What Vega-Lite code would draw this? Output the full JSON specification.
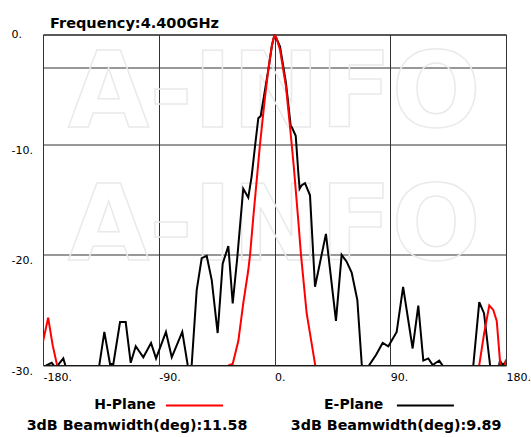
{
  "$schema": "https://vega.github.io/schema/vega-lite/v6.json",
  "autosize": {"type": "none"},
  "width": 463,
  "height": 330.5,
  "padding": {"left": 43, "top": 34.5, "right": 25, "bottom": 72},
  "background": "white",
  "title": {"text": "Frequency:4.400GHz", "anchor": "start", "frame": "group", "font": "DejaVu Sans", "fontSize": 14.5, "fontWeight": "bold", "color": "black", "baseline": "alphabetic", "dx": 7, "offset": -14},
  "config": {"view": {"stroke": "black", "strokeWidth": 1}, "font": "DejaVu Sans"},
  "datasets": {
    "h": [
      {"deg": -180, "db": -27.9}, {"deg": -176, "db": -25.7}, {"deg": -172.5, "db": -28.2}, {"deg": -168.5, "db": -30.3}, {"deg": -166, "db": -33},
      {"deg": -37, "db": -33}, {"deg": -35.2, "db": -30.0}, {"deg": -32.5, "db": -29.9}, {"deg": -28.1, "db": -27.8}, {"deg": -24.3, "db": -24.4},
      {"deg": -20.4, "db": -21.4}, {"deg": -19, "db": -20.0}, {"deg": -16.5, "db": -16.6}, {"deg": -11.3, "db": -10.0}, {"deg": -7.5, "db": -5.8},
      {"deg": -4.8, "db": -3.2}, {"deg": -2, "db": -1.0}, {"deg": 0, "db": 0}, {"deg": 1.5, "db": -0.3}, {"deg": 4.3, "db": -1.4},
      {"deg": 8.9, "db": -4.7}, {"deg": 12.1, "db": -8.4}, {"deg": 15, "db": -12.0}, {"deg": 18.5, "db": -16.9}, {"deg": 20.6, "db": -20.0},
      {"deg": 25, "db": -25.3}, {"deg": 31.5, "db": -29.9}, {"deg": 33.5, "db": -33}, {"deg": 157, "db": -33}, {"deg": 159.2, "db": -30},
      {"deg": 162.9, "db": -27.2}, {"deg": 167, "db": -24.6}, {"deg": 170.1, "db": -25.0}, {"deg": 172.8, "db": -26.0}, {"deg": 175.3, "db": -29.6},
      {"deg": 176.5, "db": -31}, {"deg": 178, "db": -30.5}, {"deg": 180, "db": -29.5}
    ],
    "e": [
      {"deg": -180, "db": -30.3}, {"deg": -177, "db": -30.0}, {"deg": -173.2, "db": -29.8}, {"deg": -170, "db": -30.3}, {"deg": -167, "db": -29.8},
      {"deg": -164.2, "db": -29.4}, {"deg": -161.5, "db": -30.5}, {"deg": -159, "db": -33}, {"deg": -138, "db": -33}, {"deg": -136.2, "db": -30},
      {"deg": -132.3, "db": -27.0}, {"deg": -127.9, "db": -29.9}, {"deg": -125.3, "db": -29.9}, {"deg": -120.1, "db": -26.1}, {"deg": -115.7, "db": -26.1},
      {"deg": -111.8, "db": -29.8}, {"deg": -107.9, "db": -28.3}, {"deg": -102, "db": -29.3}, {"deg": -96, "db": -28.0}, {"deg": -92.1, "db": -29.4},
      {"deg": -84.4, "db": -27.0}, {"deg": -79.9, "db": -29.3}, {"deg": -71.7, "db": -27.0}, {"deg": -67.5, "db": -30.0}, {"deg": -66, "db": -31},
      {"deg": -64.4, "db": -30}, {"deg": -60.5, "db": -23.2}, {"deg": -56.6, "db": -20.3}, {"deg": -52.7, "db": -20.1}, {"deg": -48.8, "db": -22.3},
      {"deg": -44.2, "db": -27.1}, {"deg": -40.3, "db": -20.8}, {"deg": -35.9, "db": -19.2}, {"deg": -32.5, "db": -24.4}, {"deg": -28.9, "db": -20.2},
      {"deg": -24.3, "db": -14.0}, {"deg": -20.4, "db": -14.8}, {"deg": -17.8, "db": -12.9}, {"deg": -15.2, "db": -10.2}, {"deg": -12.6, "db": -7.6},
      {"deg": -10.7, "db": -7.4}, {"deg": -4.8, "db": -3.2}, {"deg": -2, "db": -1.0}, {"deg": 0, "db": 0}, {"deg": 2, "db": -0.5},
      {"deg": 4.3, "db": -1.1}, {"deg": 8.9, "db": -4.4}, {"deg": 12.6, "db": -8.3}, {"deg": 13.4, "db": -8.4}, {"deg": 16.5, "db": -9.2},
      {"deg": 18.5, "db": -12.5}, {"deg": 19.5, "db": -14.0}, {"deg": 21, "db": -13.7}, {"deg": 23.7, "db": -13.5}, {"deg": 27.6, "db": -14.6},
      {"deg": 31.5, "db": -22.9}, {"deg": 40, "db": -18.1}, {"deg": 47.8, "db": -26.0}, {"deg": 52.2, "db": -20.0}, {"deg": 56, "db": -20.6},
      {"deg": 60, "db": -21.6}, {"deg": 64.4, "db": -24.1}, {"deg": 67.8, "db": -29.9}, {"deg": 70, "db": -31}, {"deg": 72, "db": -30.3},
      {"deg": 74.3, "db": -29.9}, {"deg": 78.9, "db": -29.1}, {"deg": 84.1, "db": -28.0}, {"deg": 88.5, "db": -28.3}, {"deg": 95, "db": -27.0},
      {"deg": 100, "db": -22.9}, {"deg": 107.4, "db": -28.5}, {"deg": 111.8, "db": -24.6}, {"deg": 115.7, "db": -29.6}, {"deg": 119.6, "db": -29.4},
      {"deg": 123, "db": -30.0}, {"deg": 125.5, "db": -29.8}, {"deg": 128.1, "db": -29.6}, {"deg": 131, "db": -30.1}, {"deg": 133, "db": -33},
      {"deg": 152, "db": -33}, {"deg": 154.6, "db": -30}, {"deg": 159.2, "db": -24.3}, {"deg": 162.9, "db": -25.3}, {"deg": 167.6, "db": -30},
      {"deg": 170, "db": -31.5}, {"deg": 173, "db": -31}, {"deg": 175.3, "db": -29.6}, {"deg": 177.5, "db": -30.0}, {"deg": 180, "db": -29.7}
    ],
    "one": [{}]
  },
  "layer": [
    {
      "data": {"name": "one"},
      "mark": {"type": "text", "font": "DejaVu Sans", "fontWeight": "bold", "fontSize": 105, "fill": "transparent", "stroke": "#eaeaea", "strokeWidth": 1.5, "align": "center", "baseline": "alphabetic"},
      "encoding": {"x": {"datum": 0, "type": "quantitative", "axis": {"title": null}}, "y": {"datum": -8.4, "type": "quantitative", "axis": {"title": null}}, "text": {"value": "A-INFO"}}
    },
    {
      "data": {"name": "one"},
      "mark": {"type": "text", "font": "DejaVu Sans", "fontWeight": "bold", "fontSize": 105, "fill": "transparent", "stroke": "#eaeaea", "strokeWidth": 1.5, "align": "center", "baseline": "alphabetic"},
      "encoding": {"x": {"datum": 0, "type": "quantitative", "axis": {"title": null}}, "y": {"datum": -20.5, "type": "quantitative", "axis": {"title": null}}, "text": {"value": "A-INFO"}}
    },
    {
      "data": {"name": "e"},
      "mark": {"type": "line", "color": "black", "strokeWidth": 2, "clip": true},
      "encoding": {
        "x": {"field": "deg", "type": "quantitative", "scale": {"domain": [-180, 180], "nice": false, "zero": false},
          "axis": {"values": [-180, -90, 0, 90, 180], "grid": true, "gridColor": "#333333", "gridWidth": 1, "domain": false, "ticks": false, "tickSize": 0,
            "labelAlign": "left", "labelBaseline": "top", "labelPadding": 6, "labelFont": "DejaVu Sans", "labelFontSize": 11, "labelColor": "black",
            "labelExpr": "datum.value + '.'", "labelFlush": false, "labelOverlap": false, "labelBound": false, "title": null}},
        "y": {"field": "db", "type": "quantitative", "scale": {"domain": [-30, 0], "nice": false, "zero": false},
          "axis": {"values": [0, -3, -10, -20, -30], "grid": true, "gridColor": "#333333", "gridWidth": 1, "domain": false, "ticks": false, "tickSize": 0,
            "labelAlign": "left", "labelBaseline": {"condition": {"test": "datum.value == 0", "value": "middle"}, "value": "top"}, "labelPadding": 32,
            "labelFont": "DejaVu Sans", "labelFontSize": 11, "labelColor": "black",
            "labelExpr": "datum.value == -3 ? '' : datum.value + '.'", "labelFlush": false, "labelOverlap": false, "labelBound": false, "title": null}}
      }
    },
    {
      "data": {"name": "h"},
      "mark": {"type": "line", "color": "#ff0000", "strokeWidth": 2, "clip": true},
      "encoding": {
        "x": {"field": "deg", "type": "quantitative", "axis": {"title": null}},
        "y": {"field": "db", "type": "quantitative", "axis": {"title": null}}
      }
    },
    {
      "data": {"name": "one"},
      "mark": {"type": "text", "font": "DejaVu Sans", "fontWeight": "bold", "fontSize": 14, "color": "black", "align": "left", "baseline": "alphabetic"},
      "encoding": {"x": {"datum": -140.1, "type": "quantitative", "axis": {"title": null}}, "y": {"datum": -33.95, "type": "quantitative", "axis": {"title": null}}, "text": {"value": "H-Plane"}}
    },
    {
      "data": {"name": "one"},
      "mark": {"type": "rule", "color": "#ff0000", "strokeWidth": 2},
      "encoding": {"x": {"datum": -84.4, "type": "quantitative", "axis": {"title": null}}, "x2": {"datum": -40.0}, "y": {"datum": -33.68, "type": "quantitative", "axis": {"title": null}}}
    },
    {
      "data": {"name": "one"},
      "mark": {"type": "text", "font": "DejaVu Sans", "fontWeight": "bold", "fontSize": 14.3, "color": "black", "align": "left", "baseline": "alphabetic"},
      "encoding": {"x": {"datum": -192.7, "type": "quantitative", "axis": {"title": null}}, "y": {"datum": -35.86, "type": "quantitative", "axis": {"title": null}}, "text": {"value": "3dB Beamwidth(deg):11.58"}}
    },
    {
      "data": {"name": "one"},
      "mark": {"type": "text", "font": "DejaVu Sans", "fontWeight": "bold", "fontSize": 14, "color": "black", "align": "left", "baseline": "alphabetic"},
      "encoding": {"x": {"datum": 38.5, "type": "quantitative", "axis": {"title": null}}, "y": {"datum": -33.95, "type": "quantitative", "axis": {"title": null}}, "text": {"value": "E-Plane"}}
    },
    {
      "data": {"name": "one"},
      "mark": {"type": "rule", "color": "black", "strokeWidth": 2},
      "encoding": {"x": {"datum": 95.2, "type": "quantitative", "axis": {"title": null}}, "x2": {"datum": 139.5}, "y": {"datum": -33.68, "type": "quantitative", "axis": {"title": null}}}
    },
    {
      "data": {"name": "one"},
      "mark": {"type": "text", "font": "DejaVu Sans", "fontWeight": "bold", "fontSize": 14.3, "color": "black", "align": "left", "baseline": "alphabetic"},
      "encoding": {"x": {"datum": 12.6, "type": "quantitative", "axis": {"title": null}}, "y": {"datum": -35.86, "type": "quantitative", "axis": {"title": null}}, "text": {"value": "3dB Beamwidth(deg):9.89"}}
    }
  ]
}
